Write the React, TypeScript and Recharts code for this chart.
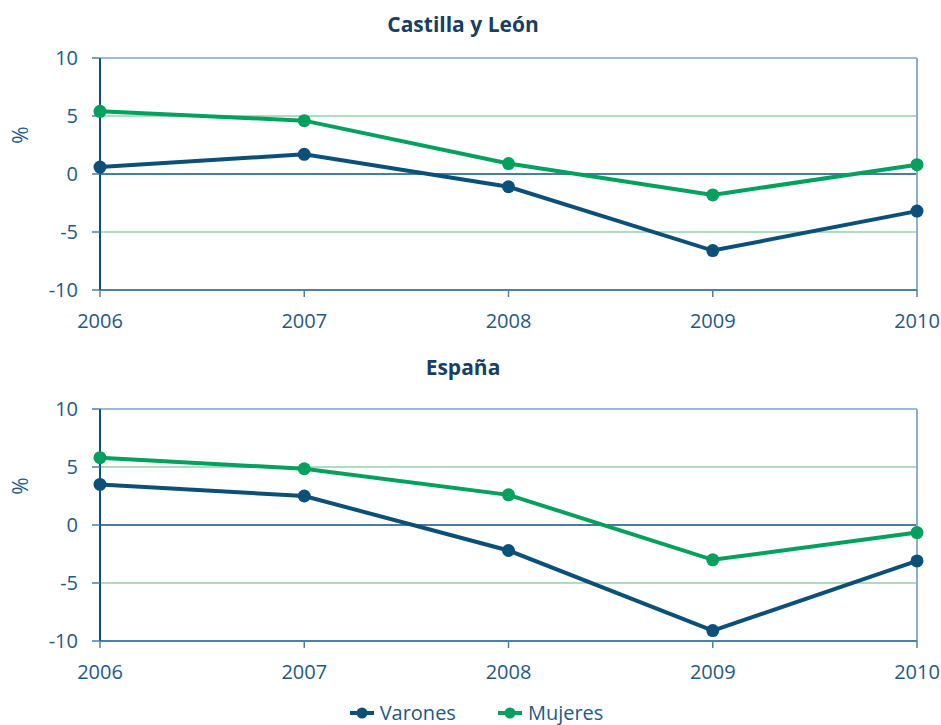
import React from 'react';
import { LineChart, Line, XAxis, YAxis, ReferenceLine } from 'recharts';

// Values (% change)
const years = ['2006', '2007', '2008', '2009', '2010'];
const cylVarones = [0.6, 1.7, -1.1, -6.6, -3.2];
const cylMujeres = [5.4, 4.6, 0.9, -1.8, 0.8];
const espVarones = [3.5, 2.5, -2.2, -9.1, -3.1];
const espMujeres = [5.8, 4.85, 2.6, -3.0, -0.65];
const yTicks = [-10, -5, 0, 5, 10];

const series = [
  { key: 'varones', name: 'Varones', color: '#0b5079' },
  { key: 'mujeres', name: 'Mujeres', color: '#03a05e' },
];

const FONT = '"Open Sans", "Noto Sans", sans-serif';
const TEXT = '#1d5a85';

const buildRows = (varones: number[], mujeres: number[]) =>
  years.map((year, i) => ({ year, varones: varones[i], mujeres: mujeres[i] }));

interface PanelProps {
  title: string;
  varones: number[];
  mujeres: number[];
  top: number;
  titleTop: number;
  plotTop: number;
}

const Panel: React.FC<PanelProps> = ({ title, varones, mujeres, top, titleTop, plotTop }) => {
  const data = buildRows(varones, mujeres);
  return (
    <>
      <div
        style={{
          position: 'absolute', top: titleTop, left: 0, width: 926, textAlign: 'center',
          fontFamily: FONT, fontWeight: 700, fontSize: 21, color: '#173f63', lineHeight: '28px',
        }}
      >
        {title}
      </div>
      <div style={{ position: 'absolute', top, left: 0 }}>
        <LineChart width={941} height={plotTop + 232 + 52} data={data}
          margin={{ top: plotTop, right: 24, left: 0, bottom: 0 }}>
          <ReferenceLine y={10} stroke="#7ea4c4" strokeWidth={1.5} />
          <ReferenceLine y={5} stroke="#93d1ab" strokeWidth={1.5} />
          <ReferenceLine y={-5} stroke="#93d1ab" strokeWidth={1.5} />
          <ReferenceLine y={0} stroke="#0f4f7c" strokeWidth={1.5} />
          <ReferenceLine x="2010" stroke="#8eaecb" strokeWidth={2} />
          <XAxis
            dataKey="year"
            height={52}
            padding={{ left: 0, right: 0 }}
            axisLine={{ stroke: '#4d80a6', strokeWidth: 2 }}
            tickLine={{ stroke: '#4d80a6', strokeWidth: 1.5 }}
            tickSize={7}
            tickMargin={17}
            tick={{ fill: TEXT, fontSize: 20, fontFamily: FONT }}
            interval={0}
          />
          <YAxis
            domain={[-10, 10]}
            ticks={yTicks}
            width={100}
            axisLine={{ stroke: '#0f4f7c', strokeWidth: 2 }}
            tickLine={{ stroke: '#4d80a6', strokeWidth: 1.5 }}
            tickSize={8}
            tickMargin={14}
            tick={{ fill: TEXT, fontSize: 20, fontFamily: FONT }}
            label={{
              content: (p: any) => {
                const vb = p.viewBox || { x: 0, y: 0 };
                const cx = 20;
                const cy = vb.y + 77;
                return (
                  <text x={cx} y={cy} transform={`rotate(-90 ${cx} ${cy})`} textAnchor="middle"
                    dominantBaseline="central" fill={TEXT} fontSize={21} fontFamily={FONT}>%</text>
                );
              },
            }}
          />
          {series.map((s) => (
            <Line
              key={s.key}
              dataKey={s.key}
              name={s.name}
              stroke={s.color}
              strokeWidth={4}
              dot={{ r: 6.5, fill: s.color, stroke: s.color, strokeWidth: 0 }}
              activeDot={false}
              isAnimationActive={false}
            />
          ))}
        </LineChart>
      </div>
    </>
  );
};

const App: React.FC = () => {
  return (
    <div style={{ position: 'absolute', top: 0, left: 0, width: 941, height: 725, background: '#fff', overflow: 'hidden' }}>
      <Panel title="Castilla y León" varones={cylVarones} mujeres={cylMujeres} top={0} titleTop={10} plotTop={58} />
      <Panel title="España" varones={espVarones} mujeres={espMujeres} top={340} titleTop={353} plotTop={69} />
      <div
        style={{
          position: 'absolute', top: 702, left: 0, width: 941, display: 'flex', justifyContent: 'center',
          gap: 42, fontFamily: FONT, fontSize: 20, lineHeight: '22px', color: TEXT, paddingLeft: 12,
          boxSizing: 'border-box',
        }}
      >
        {series.map((s) => (
          <div key={s.key} style={{ display: 'flex', alignItems: 'center', gap: 6 }}>
            <svg width={24} height={14}>
              <line x1={0} y1={7} x2={24} y2={7} stroke={s.color} strokeWidth={4} />
              <circle cx={12} cy={7} r={5.5} fill={s.color} />
            </svg>
            <span>{s.name}</span>
          </div>
        ))}
      </div>
    </div>
  );
};

export default App;
